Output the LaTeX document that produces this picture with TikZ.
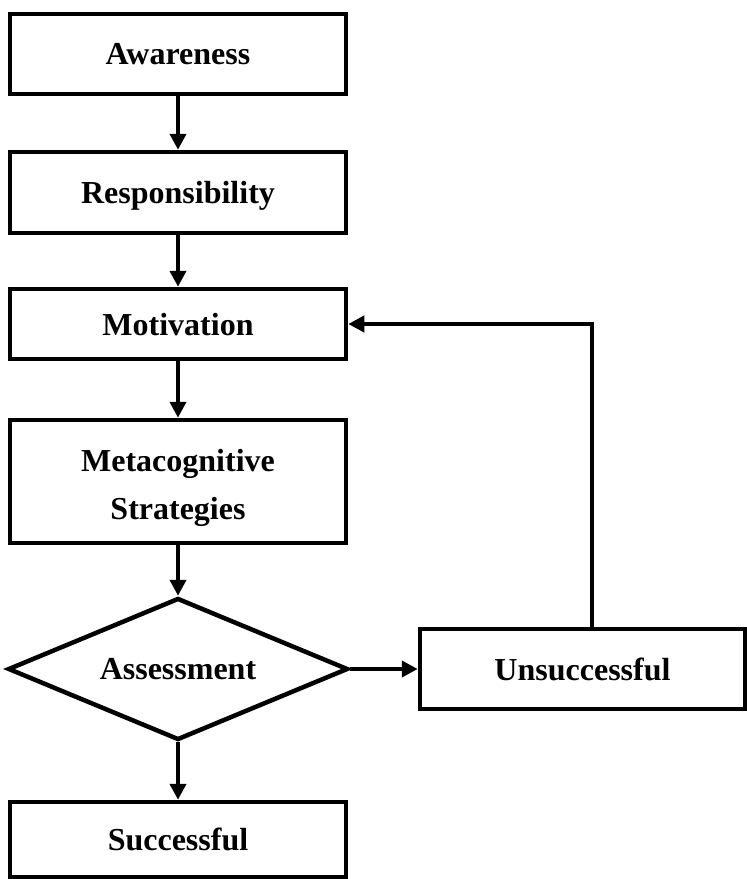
\documentclass[tikz,border=0pt]{standalone}
\usepackage{fontspec}
\setmainfont{Liberation Serif}
\usetikzlibrary{shapes.geometric,arrows.meta}
\begin{document}
\begin{tikzpicture}[x=1pt,y=-1pt,
  box/.style={draw,line width=4.5pt,rectangle,minimum width=336pt,inner sep=0pt,
    font=\fontsize{32}{48}\selectfont\bfseries,align=center,text depth=0pt},
  dec/.style={draw,line width=4.5pt,diamond,aspect=2.4,minimum width=340pt,minimum height=142pt,inner sep=0pt,
    font=\fontsize{32}{48}\selectfont\bfseries},
  arr/.style={line width=4.5pt,-{Triangle[length=16pt,width=16pt]}}]
\useasboundingbox (0,0) rectangle (747,879);
\node[box,minimum height=80pt] (aw) at (178,54) {Awareness};
\node[box,minimum height=81pt] (re) at (178,192.5) {Responsibility};
\node[box,minimum height=70pt] (mo) at (178,324) {Motivation};
\node[box,minimum height=123pt] (me) at (178,481.5) {\raisebox{-6pt}{Metacognitive}\\\raisebox{-6pt}{Strategies}};
\node[dec] (as) at (178,669) {\raisebox{-6pt}{Assessment}};
\node[box,minimum width=325pt,minimum height=80pt] (un) at (582.5,669) {Unsuccessful};
\node[box,minimum height=75pt] (su) at (178,839.5) {Successful};
\draw[arr] (aw.south) -- (re.north);
\draw[arr] (re.south) -- (mo.north);
\draw[arr] (mo.south) -- (me.north);
\draw[arr] (me.south) -- (as.north);
\draw[arr] (as.south) -- (su.north);
\draw[arr] (as.east) -- (un.west);
\draw[arr] ([xshift=9.5pt]un.north) |- (mo.east);
\end{tikzpicture}
\end{document}
